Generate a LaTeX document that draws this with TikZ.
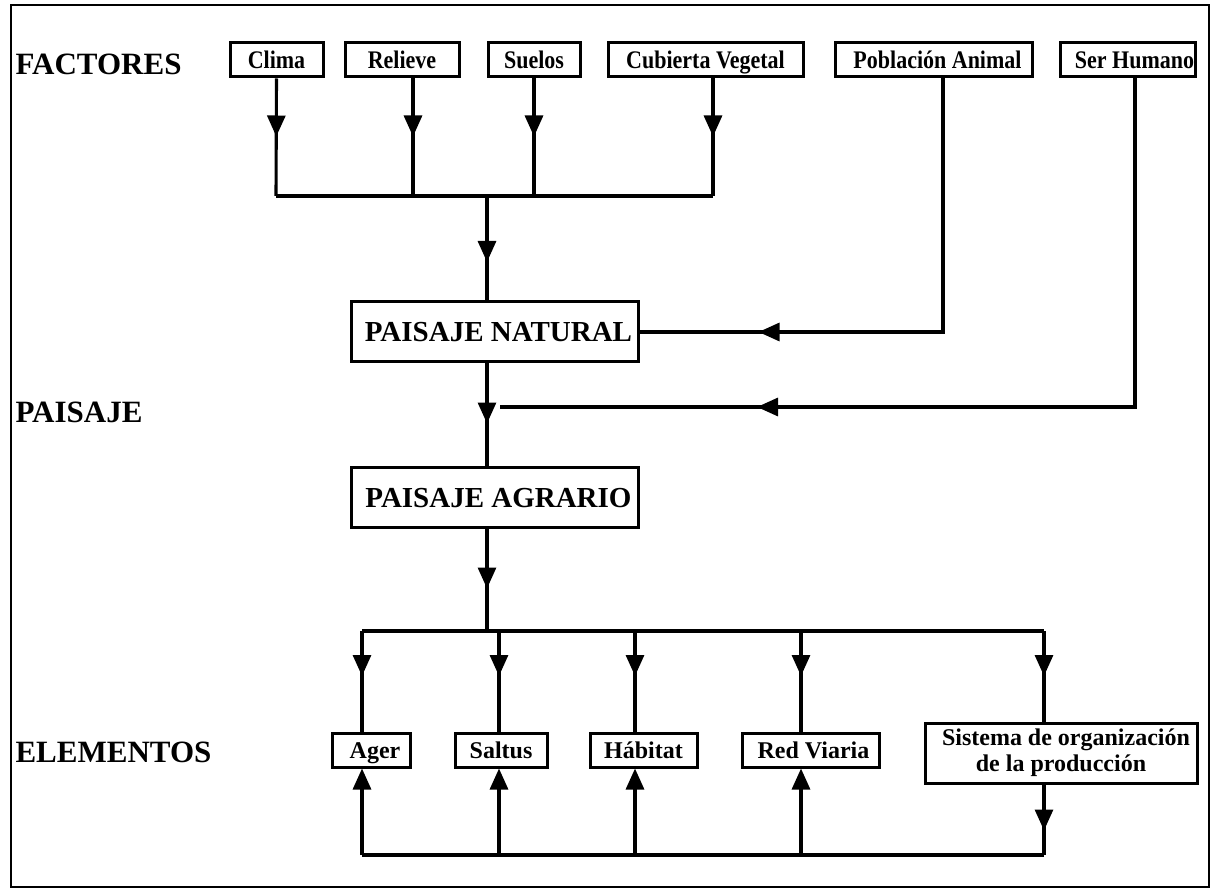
\documentclass[tikz,border=0pt]{standalone}
\usepackage{fontspec}
\setmainfont{Liberation Serif}
\usetikzlibrary{arrows.meta,decorations.markings}
\newcommand\tallt[1]{\scalebox{1}[1.15]{#1}}
\begin{document}
\begin{tikzpicture}[x=1pt,y=-1pt,
  line width=3.1pt,
  tip/.tip={Triangle[width=18pt,length=21pt]},
  topbox/.style={draw,line width=3pt,inner sep=0pt,minimum height=34pt,text height=17pt,text depth=0pt,font=\fontsize{22}{26}\selectfont\bfseries},
  botbox/.style={draw,line width=3pt,inner sep=0pt,minimum height=34pt,text height=16pt,text depth=0pt,font=\fontsize{24}{28}\selectfont\bfseries},
  bigbox/.style={draw,line width=3pt,inner sep=0pt,minimum width=287pt,minimum height=60pt,text height=20pt,text depth=0pt,font=\fontsize{29}{33}\selectfont\bfseries},
  lbl/.style={anchor=west,inner sep=0pt,font=\fontsize{31}{35}\selectfont\bfseries},
  arrowat/.style={postaction={decorate},decoration={markings,mark=at position #1 with {\arrow{tip}}}}
]
\useasboundingbox (0,0) rectangle (1216,893);
\draw[line width=1.5pt] (11,5) rectangle (1209,887);

% labels
\node[lbl] (lfac) at (14,64) {FACTORES};
\node[lbl] (lpai) at (14,412) {PAISAJE};
\node[lbl] (lele) at (14,752) {ELEMENTOS};

% top boxes
\node[topbox,minimum width=93pt]  (clima)  at (276.5,60) {\tallt{Clima}};
\node[topbox,minimum width=114pt] (relieve) at (402,60) {\tallt{Relieve}};
\node[topbox,minimum width=92pt]  (suelos) at (534,60) {\tallt{Suelos}};
\node[topbox,minimum width=195pt] (cub)    at (705.5,60) {\tallt{Cubierta Vegetal}};
\node[topbox,minimum width=197pt] (pob)    at (933.5,60) {\tallt{\hspace*{8pt}Población Animal}};
\node[topbox,minimum width=135pt] (hum)    at (1127.5,60) {\tallt{\hspace*{14pt}Ser Humano}};

% paisajes
\node[bigbox] (nat) at (494.5,332) {\hspace*{8pt}PAISAJE NATURAL};
\node[bigbox] (agr) at (494.5,497) {\hspace*{8pt}PAISAJE AGRARIO};

% bottom boxes
\node[botbox,minimum width=78pt]  (ager)   at (371,750) {\hspace*{8pt}Ager};
\node[botbox,minimum width=92pt]  (saltus) at (501,750) {Saltus};
\node[botbox,minimum width=107pt] (hab)    at (643.5,750) {Hábitat};
\node[botbox,minimum width=137pt] (red)    at (810.5,750) {\hspace*{6pt}Red Viaria};
\node[draw,line width=3pt,inner sep=0pt,minimum width=272pt,minimum height=60pt,align=center,font=\fontsize{24}{28}\selectfont\bfseries] (sis) at (1061,753)
  {\hspace*{10pt}Sistema de organización\\[-2pt]de la producción};

% coordinates
\coordinate (j1) at (276,196);
\coordinate (j2) at (413,196);
\coordinate (j3) at (534,196);
\coordinate (j4) at (713,196);
\coordinate (jc) at (487,196);
\coordinate (pa) at (943,332);
\coordinate (hc) at (1135,407);
\coordinate (he) at (500,407);
\coordinate (br) at (487,631);
\coordinate (b1) at (362,631);
\coordinate (b2) at (499,631);
\coordinate (b3) at (635,631);
\coordinate (b4) at (801,631);
\coordinate (b5) at (1044,631);
\coordinate (d1) at (362,855);
\coordinate (d2) at (499,855);
\coordinate (d3) at (635,855);
\coordinate (d4) at (801,855);
\coordinate (d5) at (1044,855);

% factor lines
\draw[arrowat=58pt] (clima.south) -- (j1);
\draw[arrowat=58pt] (relieve.south -| j2) -- (j2);
\draw[arrowat=58pt] (suelos.south -| j3) -- (j3);
\draw[arrowat=58pt] (cub.south -| j4) -- (j4);
\draw (j1) -- (j4);
\draw[arrowat=66pt] (jc) -- (nat.north -| jc);

% poblacion animal
\draw[arrowat=-119pt] (pob.south -| pa) -- (pa) -- (nat.east |- pa);
% ser humano
\draw[arrowat=-257pt] (hum.south -| hc) -- (hc) -- (he);

% natural -> agrario -> branch
\draw[arrowat=60pt] (nat.south -| jc) -- (agr.north -| jc);
\draw[arrowat=60pt] (agr.south -| jc) -- (br);
\draw (b1) -- (b5);

% down arrows
\draw[arrowat=45pt] (b1) -- (ager.north -| b1);
\draw[arrowat=45pt] (b2) -- (saltus.north -| b2);
\draw[arrowat=45pt] (b3) -- (hab.north -| b3);
\draw[arrowat=45pt] (b4) -- (red.north -| b4);
\draw[arrowat=45pt] (b5) -- (sis.north -| b5);

% feedback
\draw[arrowat=46pt] (sis.south -| d5) -- (d5);
\draw (d1) -- (d5);
\draw[-tip] (d1) -- (ager.south -| d1);
\draw[-tip] (d2) -- (saltus.south -| d2);
\draw[-tip] (d3) -- (hab.south -| d3);
\draw[-tip] (d4) -- (red.south -| d4);
\end{tikzpicture}
\end{document}
